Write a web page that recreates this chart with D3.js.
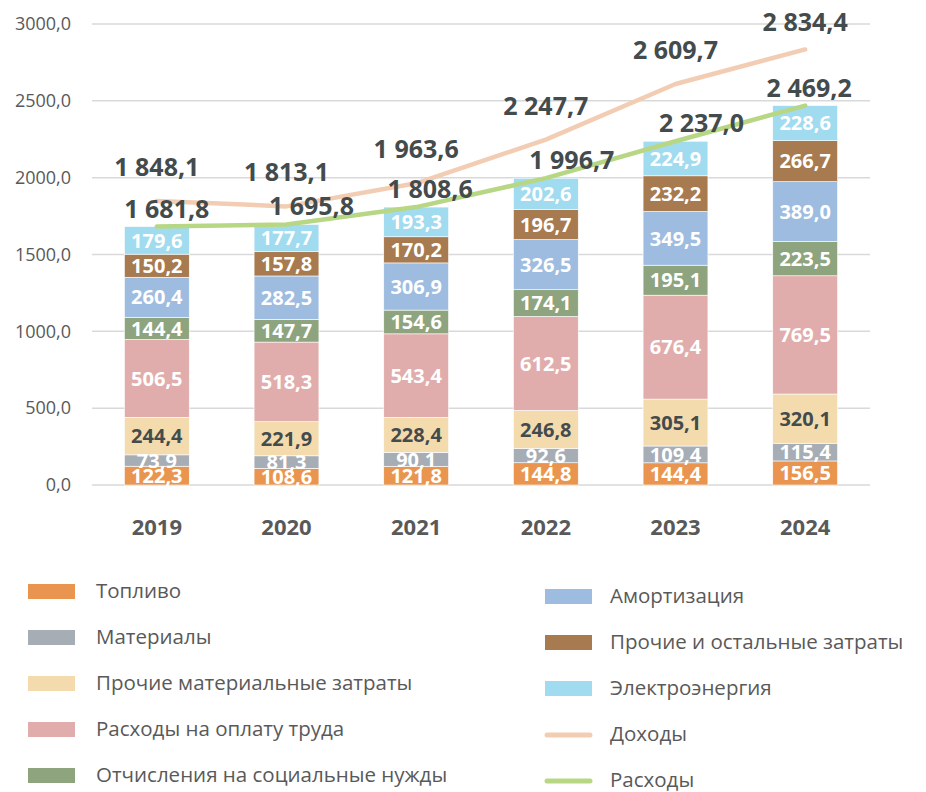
<!DOCTYPE html>
<html>
<head>
<meta charset="utf-8">
<script src="https://cdn.jsdelivr.net/npm/d3@7"></script>
<style>
body { margin: 0; background: #fff; }
text { font-family: "Open Sans", sans-serif; }
</style>
</head>
<body>
<svg id="chart" width="926" height="792"></svg>
<script>
// data
var years = ["2019", "2020", "2021", "2022", "2023", "2024"];
var toplivo      = [122.3, 108.6, 121.8, 144.8, 144.4, 156.5];
var materialy    = [73.9, 81.3, 90.1, 92.6, 109.4, 115.4];
var prochieMat   = [244.4, 221.9, 228.4, 246.8, 305.1, 320.1];
var oplataTruda  = [506.5, 518.3, 543.4, 612.5, 676.4, 769.5];
var otchisleniya = [144.4, 147.7, 154.6, 174.1, 195.1, 223.5];
var amortizaciya = [260.4, 282.5, 306.9, 326.5, 349.5, 389.0];
var prochieOst   = [150.2, 157.8, 170.2, 196.7, 232.2, 266.7];
var elektro      = [179.6, 177.7, 193.3, 202.6, 224.9, 228.6];
var dohody  = [1848.1, 1813.1, 1963.6, 2247.7, 2609.7, 2834.4];
var rashody = [1681.8, 1695.8, 1808.6, 1996.7, 2237.0, 2469.2];
var yTicks = [0, 500, 1000, 1500, 2000, 2500, 3000];

var series = [
  {name: "Топливо", values: toplivo, color: "#E9954F", text: "#fff"},
  {name: "Материалы", values: materialy, color: "#A6ADB5", text: "#fff"},
  {name: "Прочие материальные затраты", values: prochieMat, color: "#F3DBAE", text: "#434b4d"},
  {name: "Расходы на оплату труда", values: oplataTruda, color: "#E1ADAC", text: "#fff"},
  {name: "Отчисления на социальные нужды", values: otchisleniya, color: "#8EA47E", text: "#fff"},
  {name: "Амортизация", values: amortizaciya, color: "#9DBCE0", text: "#fff"},
  {name: "Прочие и остальные затраты", values: prochieOst, color: "#A77A4F", text: "#fff"},
  {name: "Электроэнергия", values: elektro, color: "#A0DBEF", text: "#fff"}
];
var lineDoh = {name: "Доходы", values: dohody, color: "#F3CDB3"};
var lineRas = {name: "Расходы", values: rashody, color: "#B8D785"};

// little nudges of the line labels, as in the picture
var rasLabelDx = [10, 25, 14, 26, 26, 4];

var ru = d3.formatLocale({decimal: ",", thousands: " ", grouping: [3], currency: ["", ""]});
var fmt = ru.format(",.1f");
var fmtTick = ru.format(".1f");

var svg = d3.select("#chart");

var x = d3.scaleBand()
    .domain(years)
    .range([92, 870])
    .paddingInner(0.5)
    .paddingOuter(0.25);

var y = d3.scaleLinear()
    .domain([0, 3000])
    .range([485, 24]);

// grid
svg.append("g").selectAll("line")
    .data(yTicks)
  .enter().append("line")
    .attr("x1", 92).attr("x2", 870)
    .attr("y1", function(d) { return y(d); })
    .attr("y2", function(d) { return y(d); })
    .style("stroke", "#D9D9D9")
    .style("stroke-width", 1.5);

// y labels
svg.append("g").selectAll("text")
    .data(yTicks)
  .enter().append("text")
    .attr("x", 71)
    .attr("y", function(d) { return y(d); })
    .attr("dy", "0.35em")
    .attr("text-anchor", "end")
    .style("font-size", "18px")
    .style("fill", "#595959")
    .text(function(d) { return fmtTick(d); });

// x labels
svg.append("g").selectAll("text")
    .data(years)
  .enter().append("text")
    .attr("x", function(d) { return x(d) + x.bandwidth() / 2; })
    .attr("y", 527)
    .attr("dy", "0.35em")
    .attr("text-anchor", "middle")
    .style("font-size", "22px")
    .style("font-weight", "bold")
    .style("fill", "#595959")
    .text(function(d) { return d; });

// stacked bars
var table = years.map(function(yr, i) {
  var row = {year: yr};
  series.forEach(function(s) { row[s.name] = s.values[i]; });
  return row;
});
var stack = d3.stack().keys(series.map(function(s) { return s.name; }));
var layers = stack(table);

var g = svg.selectAll(".layer")
    .data(layers)
  .enter().append("g")
    .attr("class", "layer")
    .style("fill", function(d, i) { return series[i].color; });

g.selectAll("rect")
    .data(function(d) { return d; })
  .enter().append("rect")
    .attr("x", function(d) { return x(d.data.year); })
    .attr("width", x.bandwidth())
    .attr("y", function(d) { return y(d[1]); })
    .attr("height", function(d) { return y(d[0]) - y(d[1]); })
    .style("stroke", "#fff")
    .style("stroke-width", 0.6);

// segment labels
layers.forEach(function(layer, i) {
  svg.append("g").selectAll("text")
      .data(layer)
    .enter().append("text")
      .attr("x", function(d) { return x(d.data.year) + x.bandwidth() / 2; })
      .attr("y", function(d) { return (y(d[0]) + y(d[1])) / 2; })
      .attr("dy", "0.36em")
      .attr("text-anchor", "middle")
      .style("font-size", "20px")
      .style("font-weight", "bold")
      .style("fill", series[i].text)
      .text(function(d) { return fmt(d[1] - d[0]); });
});

// lines
var line = d3.line()
    .x(function(d, i) { return x(years[i]) + x.bandwidth() / 2; })
    .y(function(d) { return y(d); });

[lineDoh, lineRas].forEach(function(s) {
  svg.append("path")
      .datum(s.values)
      .attr("d", line)
      .style("fill", "none")
      .style("stroke", s.color)
      .style("stroke-width", 4.5)
      .style("stroke-linecap", "round")
      .style("stroke-linejoin", "round");
});

// line labels
svg.append("g").selectAll("text")
    .data(dohody)
  .enter().append("text")
    .attr("x", function(d, i) { return x(years[i]) + x.bandwidth() / 2; })
    .attr("y", function(d) { return Math.max(22, y(d) - 34); })
    .attr("dy", "0.36em")
    .attr("text-anchor", "middle")
    .style("font-size", "25px")
    .style("font-weight", "bold")
    .style("fill", "#434b4d")
    .text(function(d) { return fmt(d); });

svg.append("g").selectAll("text")
    .data(rashody)
  .enter().append("text")
    .attr("x", function(d, i) { return x(years[i]) + x.bandwidth() / 2 + rasLabelDx[i]; })
    .attr("y", function(d) { return y(d) - 18; })
    .attr("dy", "0.36em")
    .attr("text-anchor", "middle")
    .style("font-size", "25px")
    .style("font-weight", "bold")
    .style("fill", "#434b4d")
    .text(function(d) { return fmt(d); });

// legend
var legendItems = series.concat([lineDoh, lineRas]).map(function(s, i) {
  return {name: s.name, color: s.color, isLine: i >= series.length};
});

var leg = svg.append("g").selectAll("g")
    .data(legendItems)
  .enter().append("g")
    .attr("transform", function(d, i) {
      var col = i < 5 ? 0 : 1;
      var row = i % 5;
      var lx = col === 0 ? 28 : 545;
      var ly = (col === 0 ? 592 : 597) + row * 46;
      return "translate(" + lx + "," + ly + ")";
    });

leg.filter(function(d) { return !d.isLine; }).append("rect")
    .attr("x", 0).attr("y", -8)
    .attr("width", 47).attr("height", 15)
    .style("fill", function(d) { return d.color; });

leg.filter(function(d) { return d.isLine; }).append("line")
    .attr("x1", 2).attr("x2", 45)
    .attr("y1", 0).attr("y2", 0)
    .style("stroke", function(d) { return d.color; })
    .style("stroke-width", 5)
    .style("stroke-linecap", "round");

leg.append("text")
    .attr("x", function(d, i) { return i < 5 ? 68 : 65; })
    .attr("y", -1)
    .attr("dy", "0.35em")
    .style("font-size", "20.5px")
    .style("fill", "#595959")
    .text(function(d) { return d.name; });
</script>
</body>
</html>
